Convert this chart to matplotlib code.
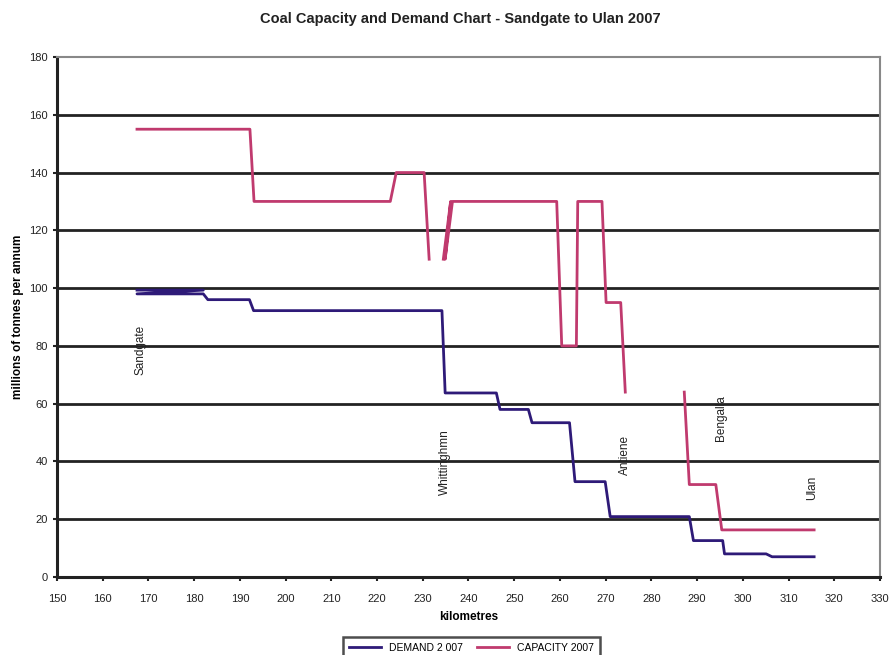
import numpy as np
import matplotlib
matplotlib.use("Agg")
import matplotlib.pyplot as plt

plt.rcParams['font.family'] = ['Liberation Sans', 'DejaVu Sans']

# demand 2007 (km, Mt/a)
demand_km = [167.5, 182.0, 167.5, 182.0, 183.0, 192.1, 193.0, 234.2, 234.9,
             246.1, 246.9, 253.1, 253.9, 262.1, 263.3, 269.9, 271.0,
             288.3, 289.2, 295.6, 296.0, 305.1, 306.4, 315.6]
demand_val = [99.3, 99.3, 98.0, 98.0, 96.0, 96.0, 92.2, 92.2, 63.7,
              63.7, 58.0, 58.0, 53.4, 53.4, 33.0, 33.0, 20.9,
              20.9, 12.6, 12.6, 8.0, 8.0, 7.0, 7.0]

# capacity 2007 (gaps are NaN)
capacity_km = [167.5, 192.2, 193.1, 222.9, 224.2, 230.3, 231.4, np.nan,
               234.5, 236.1, 234.9, 236.5, 259.3, 260.4, 263.6, 263.9,
               269.2, 270.1, 273.3, 274.3, np.nan,
               287.2, 288.3, 294.1, 295.4, 315.6]
capacity_val = [155, 155, 130, 130, 140, 140, 110, np.nan,
                110, 130, 110, 130, 130, 80, 80, 130,
                130, 95, 95, 64, np.nan,
                64, 32, 32, 16.3, 16.3]

# location labels
places = ["Sandgate", "Whittinghmn", "Antiene", "Bengalla", "Ulan"]
place_km = [168.2, 234.9, 274.3, 295.3, 315.2]
place_y = [78.6, 39.8, 42.2, 55.0, 30.8]

fig = plt.figure(figsize=(8.93, 6.55), dpi=100)
ax = fig.add_axes([0.0638, 0.1191, 0.9216, 0.7939])

demand_c = "#2E1A78"
capacity_c = "#C03A6E"

ax.plot(demand_km, demand_val, color=demand_c, lw=2, label="DEMAND 2 007")
ax.plot(capacity_km, capacity_val, color=capacity_c, lw=2, label="CAPACITY 2007")

for name, x, y in zip(places, place_km, place_y):
    ax.text(x, y, name, rotation=90, ha="center", va="center",
            fontsize=8.5, color="#222222")

ax.set_xlim(150, 330)
ax.set_ylim(0, 180)
ax.set_xticks(np.arange(150, 331, 10))
ax.set_yticks(np.arange(0, 181, 20))
ax.tick_params(labelsize=8, length=3, width=1.5, colors="#222222")
ax.tick_params(axis="x", pad=9)

for y in range(20, 180, 20):
    ax.axhline(y, color="#222222", lw=2, zorder=0)

for s in ["top", "right"]:
    ax.spines[s].set_color("#888888")
    ax.spines[s].set_linewidth(1.5)
for s in ["left", "bottom"]:
    ax.spines[s].set_color("#222222")
    ax.spines[s].set_linewidth(2.2)

ax.set_xlabel("kilometres", fontsize=8.5, fontweight="bold", labelpad=5)
ax.set_ylabel("millions of tonnes per annum", fontsize=8.5, fontweight="bold", labelpad=4)
fig.suptitle("Coal Capacity and Demand Chart - Sandgate to Ulan 2007",
             x=0.515, y=0.982, fontsize=10.5, fontweight="bold", color="#222222")

leg = fig.legend(loc="upper center", bbox_to_anchor=(0.528, 0.036), ncol=2,
                 fontsize=7.5, frameon=True, fancybox=False, handlelength=3,
                 columnspacing=1.4, borderpad=0.6)
leg.get_frame().set_edgecolor("#222222")
leg.get_frame().set_linewidth(1.8)

fig.savefig("out.png", dpi=100)
